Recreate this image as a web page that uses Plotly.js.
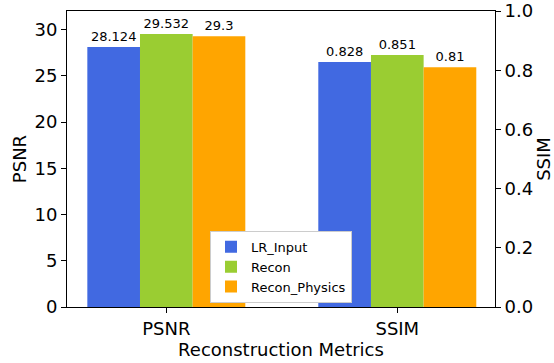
<!DOCTYPE html>
<html>
<head>
<meta charset="utf-8">
<script src="https://cdn.plot.ly/plotly-3.0.1.min.js"></script>
<style>
  html, body { margin: 0; padding: 0; background: #fff; }
  #chart { width: 554px; height: 363px; }
</style>
</head>
<body>
<div id="chart"></div>
<script>
// Reconstruction quality per method: PSNR on the left axis, SSIM on the right axis
const metrics = ['PSNR', 'SSIM'];
const methods = ['LR_Input', 'Recon', 'Recon_Physics'];
const colors = ['#4169E1', '#9ACD32', '#FFA500'];
const psnrValues = [28.124, 29.532, 29.3];
const ssimValues = [0.828, 0.851, 0.81];
const psnrLabels = ['28.124', '29.532', '29.3'];
const ssimLabels = ['0.828', '0.851', '0.81'];

const font = 'DejaVu Sans, sans-serif';
const traces = [];

methods.forEach((name, i) => {
  traces.push({
    type: 'bar', name: name, legendgroup: name,
    x: [metrics[0]], y: [psnrValues[i]],
    text: [psnrLabels[i]], textposition: 'outside',
    textfont: { size: 13, color: '#000', family: font },
    cliponaxis: false,
    marker: { color: colors[i], line: { width: 0 } },
    xaxis: 'x', yaxis: 'y', hoverinfo: 'skip'
  });
});
methods.forEach((name, i) => {
  traces.push({
    type: 'bar', name: name, legendgroup: name, showlegend: false,
    x: [metrics[1]], y: [ssimValues[i]],
    text: [ssimLabels[i]], textposition: 'outside',
    textfont: { size: 13, color: '#000', family: font },
    cliponaxis: false,
    marker: { color: colors[i], line: { width: 0 } },
    xaxis: 'x', yaxis: 'y2', hoverinfo: 'skip'
  });
});

const layout = {
  width: 554, height: 363,
  margin: { l: 67, r: 59, t: 11, b: 56, pad: 0 },
  paper_bgcolor: '#fff', plot_bgcolor: '#fff',
  font: { family: font, color: '#000', size: 18 },
  barmode: 'group', bargap: 0.316, bargroupgap: 0,
  showlegend: true,
  legend: {
    x: 0.5, xanchor: 'center', y: 0.014, yanchor: 'bottom',
    bgcolor: '#ffffff', bordercolor: '#cccccc', borderwidth: 1,
    font: { size: 13, family: font, color: '#000' },
    traceorder: 'normal'
  },
  xaxis: {
    type: 'category', categoryorder: 'array', categoryarray: metrics,
    range: [-0.43, 1.423],
    showline: true, linecolor: '#000', linewidth: 1, mirror: true,
    ticks: 'outside', ticklen: 5, tickwidth: 1, tickcolor: '#000',
    tickfont: { size: 18, family: font },
    showgrid: false, zeroline: false,
    title: { text: 'Reconstruction Metrics', font: { size: 18, family: font }, standoff: 1 }
  },
  yaxis: {
    range: [0, 32.02], tickmode: 'linear', tick0: 0, dtick: 5,
    showline: true, linecolor: '#000', linewidth: 1,
    ticks: 'outside', ticklen: 5, tickwidth: 1, tickcolor: '#000',
    tickfont: { size: 18, family: font },
    showgrid: false, zeroline: false,
    title: { text: 'PSNR', font: { size: 18, family: font }, standoff: 3 }
  },
  yaxis2: {
    overlaying: 'y', side: 'right',
    range: [0, 1.0], tickmode: 'linear', tick0: 0, dtick: 0.2, tickformat: '.1f',
    showline: true, linecolor: '#000', linewidth: 1,
    ticks: 'outside', ticklen: 5, tickwidth: 1, tickcolor: '#000',
    tickfont: { size: 18, family: font },
    showgrid: false, zeroline: false,
    title: { text: 'SSIM', font: { size: 18, family: font }, standoff: 8 }
  }
};

Plotly.newPlot('chart', traces, layout, { displayModeBar: false, staticPlot: true });
</script>
</body>
</html>
